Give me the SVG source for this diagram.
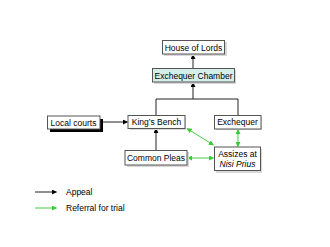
<svg xmlns="http://www.w3.org/2000/svg" width="330" height="247" viewBox="0 0 330 247">
<defs>
<style>
.box{fill:#fff;stroke:#555;stroke-width:1}
.sh{fill:#d8d8d8}
.t{font-family:"Liberation Sans",Arial,sans-serif;font-size:8.5px;fill:#000;text-anchor:middle}
.lt{font-family:"Liberation Sans",Arial,sans-serif;font-size:8.5px;fill:#000}
.blk{stroke:#222;stroke-width:1;fill:none}
.grn{stroke:#44cc44;stroke-width:1;fill:none}
</style>
<marker id="ab" viewBox="0 0 6 6" refX="5.5" refY="3" markerWidth="5" markerHeight="5" orient="auto-start-reverse" markerUnits="userSpaceOnUse"><path d="M0,0 L6,3 L0,6 z" fill="#000"/></marker>
<marker id="ag" viewBox="0 0 6 6" refX="5.5" refY="3" markerWidth="5" markerHeight="5" orient="auto-start-reverse" markerUnits="userSpaceOnUse"><path d="M0,0 L6,3 L0,6 z" fill="#33cc33"/></marker>
</defs>
<rect width="330" height="247" fill="#fff"/>
<g id="connectors">
<line class="blk" x1="193" y1="70" x2="193" y2="54.5" marker-end="url(#ab)"/>
<polyline class="blk" points="156,115 156,99 238,99 238,115"/>
<line class="blk" x1="193" y1="99" x2="193" y2="82.5" marker-end="url(#ab)"/>
<line class="blk" x1="100" y1="122" x2="127.5" y2="122" marker-end="url(#ab)"/>
<line class="blk" x1="156" y1="150" x2="156" y2="128.5" marker-end="url(#ab)"/>
<line class="grn" x1="238" y1="129.5" x2="238" y2="146.5" marker-start="url(#ag)" marker-end="url(#ag)"/>
<line class="grn" x1="187" y1="128.5" x2="213.5" y2="145" marker-start="url(#ag)" marker-end="url(#ag)"/>
<line class="grn" x1="187.5" y1="158" x2="213.5" y2="158" marker-start="url(#ag)" marker-end="url(#ag)"/>
</g>
<g id="lords"><rect class="sh" x="164" y="42" width="63" height="14"/><rect class="box" x="162.5" y="40.5" width="62" height="13.5"/><text class="t" x="193.5" y="50.5">House of Lords</text></g>
<g id="exchamber"><rect class="sh" x="154" y="70" width="82" height="14"/><rect x="152.5" y="68.5" width="82" height="13.5" fill="#d4eeea" stroke="#555"/><text class="t" x="193.5" y="78.5">Exchequer Chamber</text></g>
<g id="local"><rect x="50" y="119" width="53" height="13" fill="#000"/><rect class="box" x="47.5" y="116" width="52.5" height="13"/><text class="t" x="73.5" y="125.5">Local courts</text></g>
<g id="kingsbench"><rect class="sh" x="130" y="117" width="56" height="13"/><rect class="box" x="128" y="115.5" width="57" height="13"/><text class="t" x="156.5" y="125">King’s Bench</text></g>
<g id="exchequer"><rect class="sh" x="216" y="117" width="46" height="13"/><rect class="box" x="214.5" y="115.5" width="46.5" height="13.5"/><text class="t" x="237.5" y="125">Exchequer</text></g>
<g id="commonpleas"><rect class="sh" x="127" y="152" width="62" height="15"/><rect class="box" x="125" y="150.5" width="62" height="14.5"/><text class="t" x="156" y="161">Common Pleas</text></g>
<g id="assizes"><rect class="sh" x="216" y="149" width="46" height="24"/><rect class="box" x="214.5" y="147" width="46" height="23.5"/><text class="t" x="237.5" y="157">Assizes at</text><text class="t" x="237.5" y="166.5" font-style="italic">Nisi Prius</text></g>
<g id="legend">
<line class="blk" x1="35" y1="192" x2="56.5" y2="192" marker-end="url(#ab)"/>
<text class="lt" x="66" y="195">Appeal</text>
<line class="grn" x1="35" y1="208" x2="56.5" y2="208" marker-end="url(#ag)"/>
<text class="lt" x="66" y="211">Referral for trial</text>
</g>
</svg>
